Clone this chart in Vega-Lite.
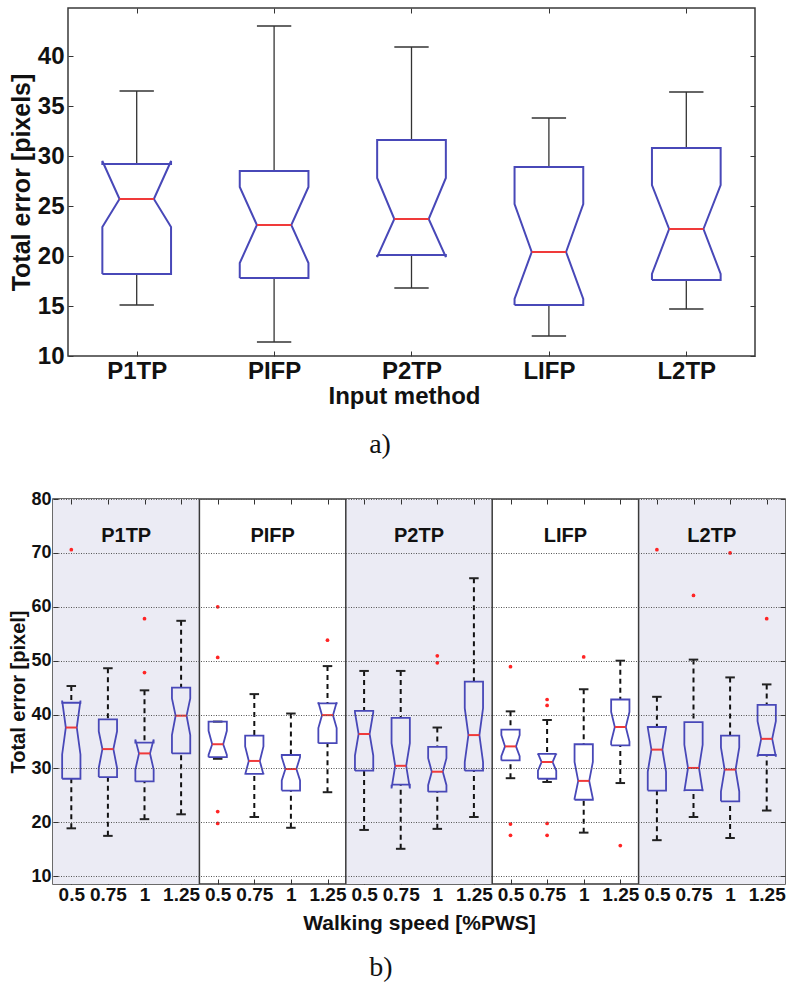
{
  "$schema": "https://vega.github.io/schema/vega-lite/v6.json",
  "padding": {"left": 8, "top": 7, "right": 0, "bottom": 0},
  "spacing": 30,
  "background": "white",
  "config": {
    "font": "Liberation Sans",
    "view": {"stroke": "#3a3a3a", "strokeWidth": 1.5},
    "axis": {"labelFont": "Liberation Sans", "labelFontWeight": "bold", "titleFont": "Liberation Sans", "titleFontWeight": "bold", "labelColor": "#111", "titleColor": "#111", "domain": false, "tickColor": "#333", "grid": false},
    "title": {"font": "Liberation Serif", "fontWeight": "normal", "color": "#111"}
  },
  "datasets": {
    "overall": [
      {"method": "P1TP", "wlo": 15.1, "q1": 18.2, "nlo": 22.9, "med": 25.7, "nhi": 29.5, "q3": 29.2, "whi": 36.5},
      {"method": "PIFP", "wlo": 11.4, "q1": 17.8, "nlo": 19.3, "med": 23.1, "nhi": 26.9, "q3": 28.5, "whi": 43.0},
      {"method": "P2TP", "wlo": 16.8, "q1": 20.1, "nlo": 19.9, "med": 23.7, "nhi": 27.8, "q3": 31.6, "whi": 40.9},
      {"method": "LIFP", "wlo": 12.0, "q1": 15.1, "nlo": 15.7, "med": 20.4, "nhi": 25.2, "q3": 28.9, "whi": 33.8},
      {"method": "L2TP", "wlo": 14.7, "q1": 17.6, "nlo": 18.2, "med": 22.7, "nhi": 27.1, "q3": 30.8, "whi": 36.4}
    ],
    "bySpeed": [
      {"method": "P1TP", "speed": 0.5, "wlo": 18.9, "q1": 28.1, "nlo": 32.6, "med": 37.6, "nhi": 42.6, "q3": 42.2, "whi": 45.3},
      {"method": "P1TP", "speed": 0.75, "wlo": 17.5, "q1": 28.4, "nlo": 30.1, "med": 33.6, "nhi": 36.9, "q3": 39.1, "whi": 48.6},
      {"method": "P1TP", "speed": 1, "wlo": 20.6, "q1": 27.6, "nlo": 29.8, "med": 32.8, "nhi": 35.4, "q3": 34.8, "whi": 44.5},
      {"method": "P1TP", "speed": 1.25, "wlo": 21.5, "q1": 32.8, "nlo": 36.2, "med": 39.8, "nhi": 43.0, "q3": 45.0, "whi": 57.4},
      {"method": "PIFP", "speed": 0.5, "wlo": 31.8, "q1": 32.1, "nlo": 32.5, "med": 34.5, "nhi": 37.0, "q3": 38.7, "whi": 38.7},
      {"method": "PIFP", "speed": 0.75, "wlo": 21.0, "q1": 29.0, "nlo": 28.9, "med": 31.4, "nhi": 34.1, "q3": 36.1, "whi": 43.8},
      {"method": "PIFP", "speed": 1, "wlo": 19.0, "q1": 25.9, "nlo": 27.8, "med": 29.9, "nhi": 32.1, "q3": 32.5, "whi": 40.2},
      {"method": "PIFP", "speed": 1.25, "wlo": 25.6, "q1": 34.7, "nlo": 37.5, "med": 39.9, "nhi": 42.3, "q3": 42.1, "whi": 49.0},
      {"method": "P2TP", "speed": 0.5, "wlo": 18.6, "q1": 29.6, "nlo": 32.4, "med": 36.4, "nhi": 40.4, "q3": 40.7, "whi": 48.1},
      {"method": "P2TP", "speed": 0.75, "wlo": 15.1, "q1": 27.0, "nlo": 26.3, "med": 30.5, "nhi": 34.7, "q3": 39.4, "whi": 48.1},
      {"method": "P2TP", "speed": 1, "wlo": 18.8, "q1": 25.7, "nlo": 26.9, "med": 29.4, "nhi": 31.9, "q3": 34.0, "whi": 37.6},
      {"method": "P2TP", "speed": 1.25, "wlo": 21.0, "q1": 29.6, "nlo": 31.2, "med": 36.2, "nhi": 41.2, "q3": 46.1, "whi": 65.3},
      {"method": "LIFP", "speed": 0.5, "wlo": 28.2, "q1": 31.5, "nlo": 32.3, "med": 34.1, "nhi": 36.2, "q3": 37.2, "whi": 40.6},
      {"method": "LIFP", "speed": 0.75, "wlo": 27.5, "q1": 28.1, "nlo": 29.6, "med": 31.2, "nhi": 32.8, "q3": 32.7, "whi": 39.0},
      {"method": "LIFP", "speed": 1, "wlo": 18.1, "q1": 24.2, "nlo": 24.4, "med": 27.7, "nhi": 31.2, "q3": 34.5, "whi": 44.7},
      {"method": "LIFP", "speed": 1.25, "wlo": 27.3, "q1": 34.3, "nlo": 35.0, "med": 37.7, "nhi": 40.5, "q3": 42.8, "whi": 50.0},
      {"method": "L2TP", "speed": 0.5, "wlo": 16.7, "q1": 25.9, "nlo": 29.4, "med": 33.5, "nhi": 37.6, "q3": 37.7, "whi": 43.3},
      {"method": "L2TP", "speed": 0.75, "wlo": 21.0, "q1": 26.0, "nlo": 25.8, "med": 30.1, "nhi": 34.4, "q3": 38.6, "whi": 50.2},
      {"method": "L2TP", "speed": 1, "wlo": 17.1, "q1": 23.9, "nlo": 25.7, "med": 29.8, "nhi": 33.9, "q3": 36.1, "whi": 46.9},
      {"method": "L2TP", "speed": 1.25, "wlo": 22.2, "q1": 32.5, "nlo": 32.2, "med": 35.5, "nhi": 38.8, "q3": 41.8, "whi": 45.6}
    ],
    "outliers": [
      {"method": "P1TP", "speed": 0.5, "value": 70.6},
      {"method": "P1TP", "speed": 1, "value": 57.8},
      {"method": "P1TP", "speed": 1, "value": 47.8},
      {"method": "PIFP", "speed": 0.5, "value": 60.0},
      {"method": "PIFP", "speed": 0.5, "value": 50.6},
      {"method": "PIFP", "speed": 0.5, "value": 22.0},
      {"method": "PIFP", "speed": 0.5, "value": 19.8},
      {"method": "PIFP", "speed": 1.25, "value": 53.8},
      {"method": "P2TP", "speed": 1, "value": 50.9},
      {"method": "P2TP", "speed": 1, "value": 49.6},
      {"method": "LIFP", "speed": 0.5, "value": 48.9},
      {"method": "LIFP", "speed": 0.5, "value": 19.7},
      {"method": "LIFP", "speed": 0.5, "value": 17.6},
      {"method": "LIFP", "speed": 0.75, "value": 42.8},
      {"method": "LIFP", "speed": 0.75, "value": 41.7},
      {"method": "LIFP", "speed": 0.75, "value": 19.8},
      {"method": "LIFP", "speed": 0.75, "value": 17.6},
      {"method": "LIFP", "speed": 1, "value": 50.7},
      {"method": "LIFP", "speed": 1.25, "value": 15.7},
      {"method": "L2TP", "speed": 0.5, "value": 70.6},
      {"method": "L2TP", "speed": 0.75, "value": 62.1},
      {"method": "L2TP", "speed": 1, "value": 70.0},
      {"method": "L2TP", "speed": 1.25, "value": 57.8}
    ],
    "panels": [
      {"method": "P1TP"}, {"method": "PIFP"}, {"method": "P2TP"}, {"method": "LIFP"}, {"method": "L2TP"}
    ]
  },
  "vconcat": [
    {
      "width": 702,
      "height": 348,
      "view": {"stroke": null},
      "title": {"text": "a)", "orient": "bottom", "anchor": "middle", "fontSize": 28, "offset": 23, "dx": -24},
      "resolve": {"axis": {"x": "independent", "y": "independent"}},
      "layer": [
        {
          "data": {"values": [{"frame": "plot"}]},
          "mark": {"type": "rect", "fillOpacity": 0, "stroke": "#3a3a3a", "strokeWidth": 1.5},
          "encoding": {
            "x": {"datum": 0.5, "type": "quantitative", "scale": {"domain": [0.39083, 5.5], "nice": false, "zero": false}, "axis": null},
            "x2": {"datum": 5.5},
            "y": {"datum": 10, "type": "quantitative", "scale": {"domain": [10, 44.8], "nice": false, "zero": false}, "axis": null},
            "y2": {"datum": 44.8}
          }
        },
        {
          "data": {"name": "overall"},
          "transform": [
            {"calculate": "indexof(['P1TP','PIFP','P2TP','LIFP','L2TP'], datum.method) + 1", "as": "pos"},
            {"fold": ["wlo", "whi"], "as": ["k", "v"]},
            {"calculate": "datum.k == 'whi' ? datum.q3 : datum.q1", "as": "end"}
          ],
          "mark": {"type": "rule", "color": "#333", "strokeWidth": 1.3},
          "encoding": {
            "x": {"field": "pos", "type": "quantitative", "scale": {"domain": [0.39083, 5.5], "nice": false, "zero": false}, "axis": null},
            "y": {"field": "v", "type": "quantitative", "scale": {"domain": [10, 44.8], "nice": false, "zero": false}, "axis": null},
            "y2": {"field": "end"}
          }
        },
        {
          "data": {"name": "overall"},
          "transform": [
            {"calculate": "indexof(['P1TP','PIFP','P2TP','LIFP','L2TP'], datum.method) + 1", "as": "pos"},
            {"fold": ["wlo", "whi"], "as": ["k", "v"]},
            {"calculate": "datum.pos - 0.125", "as": "a"},
            {"calculate": "datum.pos + 0.125", "as": "b"}
          ],
          "mark": {"type": "rule", "color": "#333", "strokeWidth": 1.5},
          "encoding": {
            "x": {"field": "a", "type": "quantitative", "scale": {"domain": [0.39083, 5.5], "nice": false, "zero": false}, "axis": null},
            "x2": {"field": "b"},
            "y": {"field": "v", "type": "quantitative", "scale": {"domain": [10, 44.8], "nice": false, "zero": false}, "axis": null}
          }
        },
        {
          "data": {"name": "overall"},
          "transform": [
            {"calculate": "indexof(['P1TP','PIFP','P2TP','LIFP','L2TP'], datum.method) + 1", "as": "pos"},
            {"calculate": "[-0.25,0.25,0.25,0.125,0.25,0.25,-0.25,-0.25,-0.125,-0.25,-0.25]", "as": "vx"},
            {"calculate": "[datum.q1,datum.q1,datum.nlo,datum.med,datum.nhi,datum.q3,datum.q3,datum.nhi,datum.med,datum.nlo,datum.q1]", "as": "vy"},
            {"calculate": "[0,1,2,3,4,5,6,7,8,9,10]", "as": "vi"},
            {"flatten": ["vx", "vy", "vi"]},
            {"calculate": "datum.pos + datum.vx", "as": "px"}
          ],
          "mark": {"type": "line", "color": "#4848B8", "strokeWidth": 2},
          "encoding": {
            "x": {"field": "px", "type": "quantitative", "scale": {"domain": [0.39083, 5.5], "nice": false, "zero": false},
              "axis": {"orient": "bottom", "values": [1, 2, 3, 4, 5], "labelExpr": "['P1TP','PIFP','P2TP','LIFP','L2TP'][datum.value - 1]", "tickSize": -5, "labelFontSize": 24, "labelPadding": 8, "labelFlush": false, "labelOverlap": false, "title": "Input method", "titleFontSize": 24, "titlePadding": 1}},
            "y": {"field": "vy", "type": "quantitative", "scale": {"domain": [10, 44.8], "nice": false, "zero": false},
              "axis": {"orient": "left", "offset": -15, "values": [10, 15, 20, 25, 30, 35, 40], "tickSize": -5, "labelFontSize": 24, "labelPadding": 9, "title": "Total error [pixels]", "titleFontSize": 25, "titlePadding": 3}},
            "detail": {"field": "method"},
            "order": {"field": "vi", "type": "quantitative"}
          }
        },
        {
          "data": {"name": "overall"},
          "transform": [
            {"calculate": "indexof(['P1TP','PIFP','P2TP','LIFP','L2TP'], datum.method) + 1", "as": "pos"},
            {"calculate": "datum.pos - 0.125", "as": "a"},
            {"calculate": "datum.pos + 0.125", "as": "b"}
          ],
          "mark": {"type": "rule", "color": "#F03A3A", "strokeWidth": 2},
          "encoding": {
            "x": {"field": "a", "type": "quantitative", "scale": {"domain": [0.39083, 5.5], "nice": false, "zero": false},
              "axis": {"orient": "top", "values": [1, 2, 3, 4, 5], "labels": false, "tickSize": -5, "title": null}},
            "x2": {"field": "b"},
            "y": {"field": "med", "type": "quantitative", "scale": {"domain": [10, 44.8], "nice": false, "zero": false},
              "axis": {"orient": "right", "values": [10, 15, 20, 25, 30, 35, 40], "labels": false, "tickSize": -5, "title": null}}
          }
        }
      ]
    },
    {
      "width": 732,
      "height": 385,
      "title": {"text": "b)", "orient": "bottom", "anchor": "middle", "fontSize": 28, "offset": 21, "dx": -38},
      "resolve": {"axis": {"x": "independent", "y": "independent"}},
      "layer": [
        {
          "data": {"name": "panels"},
          "transform": [
            {"calculate": "indexof(['P1TP','PIFP','P2TP','LIFP','L2TP'], datum.method)", "as": "idx"},
            {"filter": "datum.idx % 2 == 0"},
            {"calculate": "datum.idx * 4 + 0.5", "as": "x0"},
            {"calculate": "datum.idx * 4 + 4.5", "as": "x1"}
          ],
          "mark": {"type": "rect", "color": "#EBEBF4"},
          "encoding": {
            "x": {"field": "x0", "type": "quantitative", "scale": {"domain": [0.5, 20.5], "nice": false, "zero": false}, "axis": null},
            "x2": {"field": "x1"}
          }
        },
        {
          "data": {"name": "panels"},
          "transform": [
            {"calculate": "indexof(['P1TP','PIFP','P2TP','LIFP','L2TP'], datum.method)", "as": "idx"},
            {"filter": "datum.idx > 0"},
            {"calculate": "datum.idx * 4 + 0.5", "as": "xs"}
          ],
          "mark": {"type": "rule", "color": "#3a3a3a", "strokeWidth": 1.5},
          "encoding": {
            "x": {"field": "xs", "type": "quantitative", "scale": {"domain": [0.5, 20.5], "nice": false, "zero": false}, "axis": null}
          }
        },
        {
          "data": {"name": "bySpeed"},
          "transform": [
            {"calculate": "indexof(['P1TP','PIFP','P2TP','LIFP','L2TP'], datum.method) * 4 + indexof([0.5, 0.75, 1, 1.25], datum.speed) + 1", "as": "pos"},
            {"fold": ["wlo", "whi"], "as": ["k", "v"]},
            {"calculate": "datum.k == 'whi' ? datum.q3 : datum.q1", "as": "end"}
          ],
          "mark": {"type": "rule", "color": "#111", "strokeWidth": 2, "strokeDash": [5, 4]},
          "encoding": {
            "x": {"field": "pos", "type": "quantitative", "scale": {"domain": [0.5, 20.5], "nice": false, "zero": false}, "axis": null},
            "y": {"field": "v", "type": "quantitative", "scale": {"domain": [8.57, 80], "nice": false, "zero": false}, "axis": null},
            "y2": {"field": "end"}
          }
        },
        {
          "data": {"name": "bySpeed"},
          "transform": [
            {"calculate": "indexof(['P1TP','PIFP','P2TP','LIFP','L2TP'], datum.method) * 4 + indexof([0.5, 0.75, 1, 1.25], datum.speed) + 1", "as": "pos"},
            {"fold": ["wlo", "whi"], "as": ["k", "v"]},
            {"calculate": "datum.pos - 0.13", "as": "a"},
            {"calculate": "datum.pos + 0.13", "as": "b"}
          ],
          "mark": {"type": "rule", "color": "#222", "strokeWidth": 2},
          "encoding": {
            "x": {"field": "a", "type": "quantitative", "scale": {"domain": [0.5, 20.5], "nice": false, "zero": false}, "axis": null},
            "x2": {"field": "b"},
            "y": {"field": "v", "type": "quantitative", "scale": {"domain": [8.57, 80], "nice": false, "zero": false}, "axis": null}
          }
        },
        {
          "data": {"name": "bySpeed"},
          "transform": [
            {"calculate": "indexof(['P1TP','PIFP','P2TP','LIFP','L2TP'], datum.method) * 4 + indexof([0.5, 0.75, 1, 1.25], datum.speed) + 1", "as": "pos"},
            {"calculate": "[-0.25,0.25,0.25,0.15,0.25,0.25,-0.25,-0.25,-0.15,-0.25,-0.25]", "as": "vx"},
            {"calculate": "[datum.q1,datum.q1,datum.nlo,datum.med,datum.nhi,datum.q3,datum.q3,datum.nhi,datum.med,datum.nlo,datum.q1]", "as": "vy"},
            {"calculate": "[0,1,2,3,4,5,6,7,8,9,10]", "as": "vi"},
            {"flatten": ["vx", "vy", "vi"]},
            {"calculate": "datum.pos + datum.vx", "as": "px"}
          ],
          "mark": {"type": "line", "color": "#4848B8", "strokeWidth": 1.8},
          "encoding": {
            "x": {"field": "px", "type": "quantitative", "scale": {"domain": [0.5, 20.5], "nice": false, "zero": false},
              "axis": {"orient": "bottom", "values": [1, 2, 3, 4, 5, 6, 7, 8, 9, 10, 11, 12, 13, 14, 15, 16, 17, 18, 19, 20], "labelExpr": "['0.5','0.75','1','1.25'][(datum.value - 1) % 4]", "tickSize": -5, "labelFontSize": 19, "labelPadding": 6, "labelFlush": false, "labelOverlap": false, "title": "Walking speed [%PWS]", "titleFontSize": 21, "titlePadding": 8}},
            "y": {"field": "vy", "type": "quantitative", "scale": {"domain": [8.57, 80], "nice": false, "zero": false},
              "axis": {"orient": "left", "values": [10, 20, 30, 40, 50, 60, 70, 80], "tickSize": -5, "labelFontSize": 18, "labelPadding": 7, "grid": true, "gridDash": [1, 1.5], "gridColor": "#555", "gridWidth": 1, "zindex": 1, "title": "Total error [pixel]", "titleFontSize": 20, "titlePadding": 2}},
            "detail": [{"field": "method"}, {"field": "speed"}],
            "order": {"field": "vi", "type": "quantitative"}
          }
        },
        {
          "data": {"name": "bySpeed"},
          "transform": [
            {"calculate": "indexof(['P1TP','PIFP','P2TP','LIFP','L2TP'], datum.method) * 4 + indexof([0.5, 0.75, 1, 1.25], datum.speed) + 1", "as": "pos"},
            {"calculate": "datum.pos - 0.15", "as": "a"},
            {"calculate": "datum.pos + 0.15", "as": "b"}
          ],
          "mark": {"type": "rule", "color": "#F03A3A", "strokeWidth": 2},
          "encoding": {
            "x": {"field": "a", "type": "quantitative", "scale": {"domain": [0.5, 20.5], "nice": false, "zero": false},
              "axis": {"orient": "top", "values": [1, 2, 3, 4, 5, 6, 7, 8, 9, 10, 11, 12, 13, 14, 15, 16, 17, 18, 19, 20], "labels": false, "tickSize": -5, "title": null, "zindex": 1}},
            "x2": {"field": "b"},
            "y": {"field": "med", "type": "quantitative", "scale": {"domain": [8.57, 80], "nice": false, "zero": false},
              "axis": {"orient": "right", "values": [10, 20, 30, 40, 50, 60, 70, 80], "labels": false, "tickSize": -5, "title": null, "zindex": 1}}
          }
        },
        {
          "data": {"name": "outliers"},
          "transform": [
            {"calculate": "indexof(['P1TP','PIFP','P2TP','LIFP','L2TP'], datum.method) * 4 + indexof([0.5, 0.75, 1, 1.25], datum.speed) + 1", "as": "pos"}
          ],
          "mark": {"type": "circle", "color": "#FF2424", "size": 14, "opacity": 1},
          "encoding": {
            "x": {"field": "pos", "type": "quantitative", "scale": {"domain": [0.5, 20.5], "nice": false, "zero": false}, "axis": null},
            "y": {"field": "value", "type": "quantitative", "scale": {"domain": [8.57, 80], "nice": false, "zero": false}, "axis": null}
          }
        },
        {
          "data": {"name": "panels"},
          "transform": [
            {"calculate": "indexof(['P1TP','PIFP','P2TP','LIFP','L2TP'], datum.method) * 4 + 2.5", "as": "cx"}
          ],
          "mark": {"type": "text", "font": "Liberation Sans", "fontWeight": "bold", "fontSize": 20, "color": "#111", "baseline": "middle", "align": "center"},
          "encoding": {
            "x": {"field": "cx", "type": "quantitative", "scale": {"domain": [0.5, 20.5], "nice": false, "zero": false}, "axis": null},
            "y": {"datum": 73.2, "type": "quantitative", "scale": {"domain": [8.57, 80], "nice": false, "zero": false}, "axis": null},
            "text": {"field": "method"}
          }
        }
      ]
    }
  ]
}
